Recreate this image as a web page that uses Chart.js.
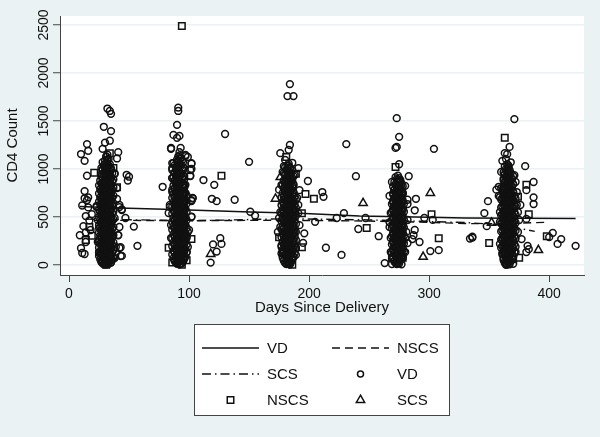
<!DOCTYPE html>
<html lang="en">
<head>
    <meta charset="UTF-8">
    <title>CD4 Count by Days Since Delivery</title>
    <script src="https://cdn.jsdelivr.net/npm/chart.js@4"></script>
    <style>
        html, body { margin: 0; padding: 0; background: #eaf2f3; }
        canvas { display: block; }
    </style>
    <script>
        const xTicks = [0, 100, 200, 300, 400];
        const yTicks = [0, 500, 1000, 1500, 2000, 2500];

        // fitted lines
        const vdLineDays = [9, 42, 72, 100, 151, 192, 242, 300, 330, 422];
        const vdLineCd4 = [610, 594, 583, 573, 552, 540, 510, 497, 490, 484];
        const nscsLineDays = [21, 42, 100, 180, 250, 300, 330, 360, 398];
        const nscsLineCd4 = [465, 465, 463, 466, 458, 445, 432, 430, 445];
        const scsLineDays = [14, 60, 100, 180, 250, 330, 360, 388];
        const scsLineCd4 = [478, 470, 460, 482, 470, 442, 420, 350];

        // VD points in the five dense visit columns, CD4 values listed per day
        const visit1Days = [25, 26, 27, 28, 29, 30, 31, 32, 33, 34, 35, 36, 37];
        const visit1Cd4 = [
            [95, 180, 262, 340, 415, 498, 575, 660, 745, 830],
            [60, 140, 225, 305, 390, 470, 550, 630, 705, 790, 880],
            [30, 112, 195, 275, 352, 438, 515, 600, 682, 760, 850, 945],
            [18, 85, 160, 240, 318, 402, 480, 562, 640, 725, 805, 895, 985],
            [8, 70, 130, 205, 288, 365, 448, 530, 612, 695, 775, 860, 930, 1040],
            [22, 95, 172, 250, 328, 410, 492, 575, 655, 738, 820, 905, 1005, 1090],
            [5, 52, 118, 190, 268, 345, 428, 510, 590, 672, 752, 838, 925, 1020, 1125],
            [35, 105, 150, 225, 300, 382, 462, 545, 625, 708, 790, 875, 960, 1060, 1150],
            [12, 78, 138, 212, 292, 372, 455, 535, 618, 698, 780, 865, 950, 1035, 1105],
            [42, 120, 198, 280, 358, 442, 522, 605, 688, 768, 852, 940, 1015],
            [25, 90, 165, 245, 325, 405, 488, 570, 650, 730, 815, 900, 990],
            [55, 128, 210, 295, 378, 460, 540, 622, 700, 785, 870, 955],
            [72, 155, 235, 312, 395, 475, 558, 645, 722, 808, 890]
        ];
        const visit1CoreDays = [27, 28, 30, 31, 32, 34, 35];
        const visit1CoreCd4 = [
            [48, 125, 218, 298, 374, 455, 536, 609, 690, 772, 846, 921, 1012],
            [33, 101, 183, 257, 335, 421, 503, 586, 662, 747, 829, 912, 998, 1071],
            [66, 146, 232, 310, 389, 472, 552, 637, 716, 796, 883, 967, 1048],
            [15, 88, 168, 244, 322, 398, 484, 568, 648, 727, 811, 892, 978, 1067, 1132],
            [40, 132, 203, 283, 361, 439, 519, 598, 679, 760, 842, 934, 1027, 1098],
            [62, 152, 237, 316, 393, 477, 558, 634, 712, 798, 881, 972, 1051],
            [28, 110, 186, 271, 349, 431, 508, 593, 671, 755, 836, 918, 1006]
        ];
        const visit2Days = [86, 87, 88, 89, 90, 91, 92, 93, 94, 95, 96, 97, 98];
        const visit2Cd4 = [
            [110, 195, 280, 368, 450, 535, 610, 700, 785],
            [70, 150, 235, 322, 405, 490, 572, 655, 742, 830, 915],
            [40, 125, 208, 295, 378, 462, 545, 628, 712, 798, 880, 965],
            [25, 98, 172, 258, 340, 425, 508, 590, 675, 758, 842, 930, 1020],
            [12, 80, 145, 228, 310, 392, 478, 560, 642, 725, 810, 895, 985, 1075],
            [30, 105, 188, 270, 352, 435, 520, 600, 685, 768, 852, 940, 1035, 1130],
            [6, 60, 132, 215, 298, 380, 465, 548, 630, 715, 798, 882, 970, 1060, 1175],
            [48, 118, 200, 285, 365, 448, 532, 615, 698, 780, 865, 955, 1045, 1110],
            [18, 90, 160, 242, 330, 412, 495, 578, 662, 745, 828, 915, 1000, 1090],
            [35, 115, 178, 262, 345, 428, 512, 595, 678, 760, 845, 925, 1018],
            [62, 140, 222, 305, 388, 472, 555, 635, 720, 805, 890],
            [88, 170, 252, 335, 418, 502, 585, 668, 750, 835],
            [130, 215, 300, 385, 470, 555, 640, 725]
        ];
        const visit2CoreDays = [88, 90, 91, 92, 93, 95, 96];
        const visit2CoreCd4 = [
            [52, 134, 214, 302, 384, 469, 551, 621, 704, 789, 872, 958, 1041],
            [22, 112, 193, 275, 357, 441, 526, 608, 692, 775, 858, 948, 1026, 1098],
            [72, 156, 246, 326, 412, 497, 583, 669, 752, 834, 921, 1008, 1085],
            [38, 120, 205, 291, 372, 457, 541, 624, 707, 791, 875, 962, 1052, 1142],
            [14, 96, 180, 265, 349, 433, 516, 601, 683, 768, 851, 936, 1027, 1118],
            [58, 142, 226, 312, 396, 481, 565, 647, 731, 816, 902, 990, 1072],
            [78, 166, 250, 338, 422, 506, 589, 672, 756, 838, 926, 1012]
        ];
        const visit3Days = [177, 178, 179, 180, 181, 182, 183, 184, 185, 186, 187, 188, 189];
        const visit3Cd4 = [
            [120, 205, 290, 372, 458, 540, 622, 705],
            [75, 160, 242, 328, 410, 495, 578, 660, 748, 830],
            [45, 128, 212, 298, 380, 465, 548, 632, 715, 800, 880],
            [28, 102, 185, 268, 352, 435, 518, 602, 685, 770, 855, 940],
            [10, 85, 150, 232, 315, 400, 482, 565, 650, 735, 820, 905, 990],
            [38, 112, 195, 278, 362, 445, 528, 612, 695, 780, 865, 950, 1035],
            [15, 68, 140, 222, 305, 390, 472, 555, 640, 725, 808, 892, 975, 1055],
            [5, 92, 170, 252, 335, 418, 502, 585, 668, 752, 838, 920, 1005],
            [32, 118, 200, 285, 368, 452, 535, 618, 702, 788, 870, 955],
            [55, 135, 220, 302, 385, 470, 552, 635, 720, 805, 885],
            [80, 165, 248, 332, 415, 498, 582, 665, 748, 830],
            [125, 210, 295, 378, 462, 545, 628, 712],
            [175, 260, 345, 428, 512, 595, 680]
        ];
        const visit3CoreDays = [179, 180, 182, 183, 184, 186, 187];
        const visit3CoreCd4 = [
            [48, 130, 216, 296, 379, 462, 544, 626, 709, 793, 876, 958],
            [22, 106, 189, 272, 356, 439, 522, 606, 689, 773, 858, 942, 1018],
            [62, 146, 228, 312, 396, 478, 561, 645, 728, 812, 897, 982],
            [34, 118, 202, 286, 370, 454, 536, 620, 703, 787, 869, 952, 1032],
            [12, 96, 178, 262, 344, 428, 511, 594, 678, 762, 846, 930, 1014],
            [72, 156, 240, 324, 408, 490, 574, 656, 740, 824, 908, 990],
            [90, 174, 258, 340, 424, 508, 590, 674, 758, 842, 926]
        ];
        const visit4Days = [269, 270, 271, 272, 273, 274, 275, 276, 277, 278, 279];
        const visit4Cd4 = [
            [130, 215, 300, 385, 468, 550, 635],
            [80, 165, 248, 332, 415, 500, 582, 665, 745],
            [45, 122, 205, 288, 372, 455, 538, 620, 702, 785],
            [22, 100, 180, 262, 345, 428, 512, 595, 678, 760, 842],
            [10, 70, 148, 230, 312, 395, 478, 562, 645, 728, 810, 895],
            [30, 108, 190, 272, 355, 438, 522, 605, 688, 770, 855, 930],
            [15, 85, 165, 245, 328, 412, 495, 578, 662, 745, 825, 905],
            [50, 128, 210, 292, 375, 458, 542, 625, 708, 790, 870],
            [62, 145, 228, 310, 395, 478, 560, 642, 725, 805],
            [95, 178, 258, 342, 425, 508, 590, 672, 752],
            [140, 225, 308, 390, 472, 555, 638]
        ];
        const visit4CoreDays = [270, 271, 273, 274, 275, 277, 278];
        const visit4CoreCd4 = [
            [66, 150, 236, 318, 402, 486, 569, 652, 735, 818],
            [36, 118, 202, 284, 366, 450, 532, 614, 697, 779, 862],
            [88, 172, 256, 338, 420, 504, 586, 668, 750, 832],
            [20, 56, 136, 220, 302, 385, 468, 552, 634, 716, 800, 884],
            [44, 126, 210, 294, 378, 460, 544, 628, 710, 794, 876],
            [8, 98, 182, 266, 350, 432, 515, 600, 682, 764, 848],
            [74, 158, 240, 324, 406, 490, 574, 656, 738, 820]
        ];
        const visit5Days = [360, 361, 362, 363, 364, 365, 366, 367, 368, 369, 370, 371, 372];
        const visit5Cd4 = [
            [180, 265, 350, 432, 518, 600, 682],
            [110, 195, 278, 362, 445, 528, 612, 695, 780],
            [70, 150, 235, 318, 402, 485, 568, 652, 735, 820, 900],
            [35, 118, 200, 285, 368, 452, 535, 618, 702, 785, 868, 950],
            [15, 88, 170, 252, 335, 418, 502, 585, 668, 752, 835, 920, 1000],
            [5, 60, 140, 222, 305, 388, 472, 555, 638, 722, 805, 888, 972, 1050],
            [25, 100, 185, 268, 350, 435, 518, 600, 685, 768, 850, 935, 1020],
            [8, 75, 155, 238, 320, 405, 488, 570, 655, 738, 820, 905, 990],
            [42, 125, 208, 292, 375, 458, 542, 625, 708, 790, 875, 960],
            [65, 148, 230, 315, 398, 480, 565, 648, 730, 815, 895],
            [95, 178, 260, 345, 428, 510, 595, 678, 760, 842],
            [135, 218, 302, 385, 468, 552, 635, 718],
            [190, 275, 358, 440, 525, 608, 690]
        ];
        const visit5CoreDays = [362, 363, 365, 366, 367, 369, 370];
        const visit5CoreCd4 = [
            [52, 134, 218, 300, 384, 466, 550, 632, 716, 798, 882, 966],
            [20, 104, 188, 272, 356, 440, 524, 608, 690, 774, 858, 942, 1026],
            [78, 162, 246, 330, 412, 496, 580, 662, 746, 830, 912, 996],
            [44, 128, 212, 296, 378, 462, 546, 628, 712, 796, 878, 962, 1038],
            [30, 112, 196, 280, 362, 446, 530, 614, 696, 780, 864, 948],
            [66, 150, 232, 316, 400, 484, 566, 650, 734, 816, 900],
            [12, 90, 174, 256, 340, 424, 508, 590, 674, 758, 842, 926]
        ];

        // VD points hugging the sides of the columns
        const fringeDays = [38, 40, 40, 42, 44, 38, 42, 41, 39, 42, 38, 43, 23, 24, 25, 24, 25,
            102, 102, 101, 103, 102, 102, 99, 84, 83, 86, 99, 97, 85, 86, 86, 86, 98, 98, 99, 85, 85,
            188, 191, 190, 191, 188, 175, 176, 177, 174, 189, 177, 178,
            268, 268, 282, 282, 280, 268,
            375, 374, 359, 359, 360, 372, 359, 373, 372, 361, 373];
        const fringeCd4 = [948, 802, 688, 604, 573, 490, 396, 312, 188, 177, 73, 94, 604, 240, 125, 469, 385,
            1060, 1000, 927, 698, 667, 500, 344, 625, 542, 760, 1125, 1146, 1219, 1062, 990, 906, 281, 135, 188, 417, 281,
            938, 625, 698, 541, 344, 490, 396, 188, 344, 177, 833, 969,
            542, 135, 229, 469, 281, 281,
            469, 344, 552, 448, 802, 865, 708, 760, 135, 281, 625];

        // scattered VD points away from the columns
        const vdOutDays = [15, 10, 16, 13, 15, 13, 16, 13, 15, 11, 16, 23, 14, 19, 17, 12, 9, 14, 18, 14, 10, 11, 13, 25, 25,
            32, 34, 35, 29, 35, 30, 28, 34, 41, 40, 48, 50, 49, 38, 42, 44, 47, 54, 57, 43, 44, 41,
            91, 91, 90, 87, 92, 90, 85, 93, 97, 102, 101, 101, 87, 86, 86, 78, 112, 121, 119, 123, 138, 130, 150, 151, 155,
            103, 102, 102, 84, 100, 126, 120, 127, 123, 118,
            184, 182, 187, 184, 183, 176, 180, 186, 179, 191, 199, 192, 211, 212, 231, 239, 229, 223, 205, 192, 196, 195, 214, 227, 241, 175, 189, 176, 258,
            273, 275, 273, 272, 304, 275, 283, 272, 276, 269, 280, 278, 267, 289, 282, 282, 288, 296, 303, 267, 267, 288, 287, 286, 292, 281, 308, 301, 263, 269, 280, 247,
            371, 367, 363, 365, 361, 364, 368, 366, 380, 360, 371, 387, 358, 356, 358, 381, 387, 349, 387, 376, 374, 346, 381, 348, 336, 334, 336, 403, 400, 410, 407, 422, 377, 382, 383, 381, 359, 361, 364];
        const vdOutCd4 = [1260, 1156, 1190, 1085, 930, 770, 705, 695, 677, 620, 600, 615, 510, 530, 465, 405, 310, 340, 365, 240, 175, 125, 115, 240, 135,
            1630, 1605, 1575, 1440, 1395, 1275, 1210, 1295, 1175, 1110, 940, 920, 880, 955, 625, 580, 490, 400, 200, 185, 95, 310,
            1640, 1605, 1460, 1355, 1345, 1325, 1210, 1220, 1135, 1055, 990, 930, 1060, 1010, 905, 815, 885, 835, 690, 665, 680, 1365, 1075, 555, 515,
            695, 675, 505, 605, 365, 280, 215, 220, 140, 25,
            1885, 1760, 1760, 1250, 1200, 1165, 1095, 1065, 1030, 1010, 875, 780, 760, 710, 1260, 925, 540, 490, 450, 415, 330, 230, 180, 105, 375, 785, 105, 550, 300,
            1530, 1335, 1230, 1220, 1210, 1050, 925, 915, 885, 865, 825, 750, 720, 690, 680, 635, 570, 490, 470, 445, 395, 365, 310, 270, 240, 345, 155, 145, 20, 10, 135, 490,
            1520, 1230, 1165, 1155, 1085, 1105, 1070, 1020, 1030, 970, 935, 865, 815, 785, 720, 780, 705, 665, 635, 625, 550, 540, 480, 405, 285, 275, 295, 335, 290, 270, 220, 200, 270, 200, 165, 135, 220, 125, 2];

        const nscsDays = [21, 40, 19, 14, 17, 31, 35, 34, 37,
            94, 127, 102, 83, 86, 94, 98,
            189, 181, 197, 204, 194, 194, 175, 178, 186, 248,
            272, 302, 308, 278, 269,
            363, 381, 374, 383, 398, 350, 375, 370];
        const nscsCd4 = [960, 810, 305, 260, 395, 2, 85, 1165, 1010,
            2490, 930, 270, 180, 25, 2, 50,
            950, 1125, 740, 690, 540, 185, 290, 125, 2, 385,
            1020, 530, 280, 75, 75,
            1325, 835, 710, 530, 300, 230, 75, 60];

        const scsDays = [118, 176, 172, 245, 301, 295, 352, 391];
        const scsCd4 = [115, 915, 690, 645, 750, 85, 440, 155];

        function toPoints(days, values) {
            return days.map((d, i) => ({x: d, y: values[i]}));
        }

        function columnPoints(days, columns) {
            let pts = [];
            days.forEach((d, i) => {
                columns[i].forEach(v => pts.push({x: d, y: v}));
            });
            return pts;
        }

        const vdPoints = [
            ...columnPoints(visit1Days, visit1Cd4),
            ...columnPoints(visit1CoreDays, visit1CoreCd4),
            ...columnPoints(visit2Days, visit2Cd4),
            ...columnPoints(visit2CoreDays, visit2CoreCd4),
            ...columnPoints(visit3Days, visit3Cd4),
            ...columnPoints(visit3CoreDays, visit3CoreCd4),
            ...columnPoints(visit4Days, visit4Cd4),
            ...columnPoints(visit4CoreDays, visit4CoreCd4),
            ...columnPoints(visit5Days, visit5Cd4),
            ...columnPoints(visit5CoreDays, visit5CoreCd4),
            ...toPoints(fringeDays, fringeCd4),
            ...toPoints(vdOutDays, vdOutCd4)
        ];

        const ink = '#111111';
        const font = '"Liberation Sans", Arial, sans-serif';

        function lineSet(label, days, values, dash) {
            return {
                label: label,
                data: toPoints(days, values),
                showLine: true,
                pointRadius: 0,
                borderColor: ink,
                borderWidth: 1.4,
                borderDash: dash
            };
        }

        function markerSet(label, points, style, radius) {
            return {
                label: label,
                data: points,
                showLine: false,
                pointStyle: style,
                pointRadius: radius,
                pointBorderColor: ink,
                pointBorderWidth: 1.5,
                pointBackgroundColor: 'transparent'
            };
        }

        const dashNscs = [8, 5];
        const dashScs = [9, 4, 1.5, 4];

        const stataBackground = {
            id: 'stataBackground',
            beforeDraw(chart) {
                const ctx = chart.ctx, a = chart.chartArea;
                ctx.save();
                ctx.fillStyle = '#eaf2f3';
                ctx.fillRect(0, 0, chart.width, chart.height);
                ctx.fillStyle = '#ffffff';
                ctx.fillRect(a.left, a.top, a.right - a.left, a.bottom - a.top);
                ctx.restore();
            }
        };

        // boxed two column legend, lines and markers mixed, drawn by hand
        const stataLegend = {
            id: 'stataLegend',
            afterDraw(chart) {
                const ctx = chart.ctx;
                ctx.save();
                ctx.fillStyle = '#ffffff';
                ctx.strokeStyle = '#444444';
                ctx.lineWidth = 1;
                ctx.fillRect(194.5, 324.5, 255, 91);
                ctx.strokeRect(194.5, 324.5, 255, 91);

                const rows = [348, 374, 400];
                const cols = [202, 332];
                const items = [
                    ['VD', 0, 0, 'line', []],
                    ['NSCS', 1, 0, 'line', dashNscs],
                    ['SCS', 0, 1, 'line', dashScs],
                    ['VD', 1, 1, 'circle'],
                    ['NSCS', 0, 2, 'rect'],
                    ['SCS', 1, 2, 'triangle']
                ];
                items.forEach(it => {
                    const x = cols[it[1]], y = rows[it[2]];
                    ctx.strokeStyle = ink;
                    if (it[3] === 'line') {
                        ctx.lineWidth = 1.4;
                        ctx.setLineDash(it[4]);
                        ctx.beginPath();
                        ctx.moveTo(x, y);
                        ctx.lineTo(x + 57, y);
                        ctx.stroke();
                        ctx.setLineDash([]);
                    } else {
                        ctx.lineWidth = 1.5;
                        ctx.fillStyle = '#ffffff';
                        const r = it[3] === 'circle' ? 3 : it[3] === 'rect' ? 4.6 : 4.8;
                        Chart.helpers.drawPoint(ctx, {pointStyle: it[3], radius: r, rotation: 0, borderWidth: 1.5}, x + 28.5, y);
                    }
                    ctx.fillStyle = ink;
                    ctx.font = '15px ' + font;
                    ctx.textBaseline = 'middle';
                    ctx.fillText(it[0], x + 65, y + 1);
                });
                ctx.restore();
            }
        };

        window.onload = () => {
            new Chart(document.getElementById('myChart'), {
                type: 'scatter',
                data: {
                    datasets: [
                        markerSet('VD', vdPoints, 'circle', 3.4),
                        markerSet('NSCS', toPoints(nscsDays, nscsCd4), 'rect', 4.6),
                        markerSet('SCS', toPoints(scsDays, scsCd4), 'triangle', 4.8),
                        lineSet('VD', vdLineDays, vdLineCd4, []),
                        lineSet('NSCS', nscsLineDays, nscsLineCd4, dashNscs),
                        lineSet('SCS', scsLineDays, scsLineCd4, dashScs)
                    ]
                },
                options: {
                    responsive: false,
                    animation: false,
                    layout: {padding: {top: 16, right: 16, bottom: 120, left: 0}},
                    plugins: {legend: {display: false}, tooltip: {enabled: false}},
                    scales: {
                        x: {
                            type: 'linear',
                            min: -7.5,
                            max: 429,
                            afterBuildTicks: s => { s.ticks = xTicks.map(v => ({value: v})); },
                            afterFit: s => { s.height = 42; },
                            grid: {drawOnChartArea: false, color: '#444444', tickColor: '#444444', tickLength: 7},
                            border: {color: '#444444', width: 1},
                            ticks: {color: ink, font: {family: font, size: 14}, padding: 4, maxRotation: 0},
                            title: {display: true, text: 'Days Since Delivery', color: ink, font: {family: font, size: 15}, padding: {top: 0, bottom: 0}}
                        },
                        y: {
                            type: 'linear',
                            min: -104,
                            max: 2594,
                            afterBuildTicks: s => { s.ticks = yTicks.map(v => ({value: v})); },
                            afterFit: s => { s.width = 60; },
                            grid: {color: '#eaf2f3', lineWidth: 1.5, tickColor: '#444444', tickLength: 7, tickWidth: 1},
                            border: {color: '#444444', width: 1},
                            ticks: {color: ink, font: {family: font, size: 14}, minRotation: 90, maxRotation: 90, crossAlign: 'center', padding: -7, callback: v => String(v)},
                            title: {display: true, text: 'CD4 Count', color: ink, font: {family: font, size: 15}, padding: {top: 4, bottom: 0}}
                        }
                    }
                },
                plugins: [stataBackground, stataLegend]
            });
        };
    </script>
</head>
<body>
<canvas id="myChart" width="600" height="437"></canvas>
</body>
</html>
